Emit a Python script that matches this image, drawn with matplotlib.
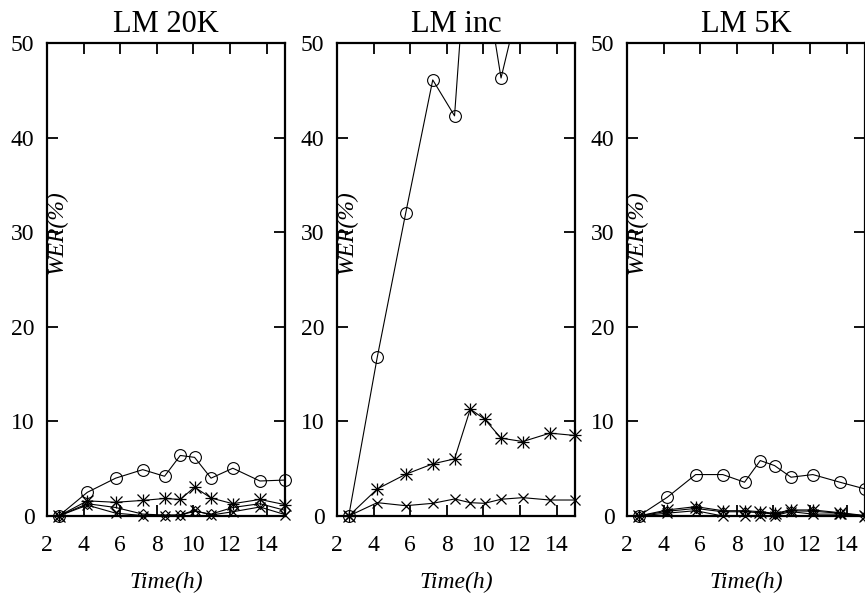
import numpy as np
import matplotlib
matplotlib.use("Agg")
import matplotlib.pyplot as plt

plt.rcParams['font.family'] = ['Liberation Serif', 'DejaVu Serif']

# Elapsed time (hours) at each evaluation point
hours = [2.64, 4.2, 5.75, 7.23, 8.42, 9.28, 10.06, 10.96, 12.15, 13.63, 15.0]

panel_titles = ["LM 20K", "LM inc", "LM 5K"]

# WER (%) per configuration, one list per curve
wer_circle_20k = [0, 2.5, 4.0, 4.9, 4.2, 6.4, 6.2, 4.0, 5.05, 3.7, 3.8]
wer_star_20k = [0, 1.6, 1.45, 1.65, 1.85, 1.75, 3.05, 1.9, 1.3, 1.75, 1.2]
wer_cross_20k = [0, 1.15, 0.3, 0.05, 0.05, 0.1, 0.6, 0.1, 0.45, 0.95, 0.15]
wer_diamond_20k = [0, 1.3, 0.9, 0.2, 0.1, 0.1, 0.5, 0.2, 0.9, 1.3, 0.6]

wer_circle_inc = [0, 16.8, 32.0, 46.1, 42.3, 65.4, 57.2, 46.3, 55.9, 58.0, 57.0]
wer_star_inc = [0, 2.86, 4.41, 5.51, 6.04, 11.3, 10.24, 8.23, 7.87, 8.76, 8.51]
wer_cross_inc = [0, 1.41, 1.09, 1.34, 1.80, 1.41, 1.34, 1.77, 1.94, 1.69, 1.69]

wer_circle_5k = [0, 1.98, 4.38, 4.38, 3.57, 5.86, 5.33, 4.1, 4.38, 3.57, 2.86]
wer_star_5k = [0, 0.64, 0.99, 0.56, 0.56, 0.46, 0.28, 0.64, 0.64, 0.35, 0.05]
wer_cross_5k = [0, 0.3, 0.56, 0.0, 0.05, 0.05, 0.05, 0.46, 0.2, 0.2, 0.0]
wer_diamond_5k = [0, 0.5, 0.8, 0.45, 0.45, 0.35, 0.2, 0.55, 0.5, 0.3, 0.0]

x_ticks = [2, 4, 6, 8, 10, 12, 14]
y_ticks = [0, 10, 20, 30, 40, 50]

panels = [
    [(wer_circle_20k, 'o'), (wer_diamond_20k, 'D'), (wer_star_20k, 'ast'), (wer_cross_20k, 'x')],
    [(wer_circle_inc, 'o'), (wer_star_inc, 'ast'), (wer_cross_inc, 'x')],
    [(wer_circle_5k, 'o'), (wer_diamond_5k, 'D'), (wer_star_5k, 'ast'), (wer_cross_5k, 'x')],
]

W, H = 865, 596
fig = plt.figure(figsize=(W / 100, H / 100), dpi=100)

lefts = [47, 337, 627]
ax_w = 238
top_px, bot_px = 43, 516

YMAX = 50
for left, title, series in zip(lefts, panel_titles, panels):
    ax = fig.add_axes([left / W, 1 - bot_px / H, ax_w / W, (bot_px - top_px) / H])
    ax.set_xlim(2, 15)
    ax.set_ylim(0, YMAX)
    x = np.array(hours)
    for vals, mk in series:
        y = np.array(vals, dtype=float)
        ax.plot(x, y, color='black', lw=0.8, zorder=3)
        # markers stay visible on the frame, but only inside the value range
        visible = np.where(y <= YMAX, y, np.nan)
        if mk == 'ast':
            for m in ['+', 'x']:
                ax.plot(x, visible, ls='none', marker=m, ms=8, mew=0.9,
                        color='black', clip_on=False, zorder=4)
        elif mk == 'x':
            ax.plot(x, visible, ls='none', marker='x', ms=7.5, mew=0.9,
                    color='black', clip_on=False, zorder=4)
        elif mk == 'D':
            ax.plot(x, visible, ls='none', marker='D', ms=5.5, mew=0.8,
                    mfc='none', mec='black', clip_on=False, zorder=4)
        else:
            ax.plot(x, visible, ls='none', marker='o', ms=8.5, mew=0.8,
                    mfc='none', mec='black', clip_on=False, zorder=4)

    ax.set_xticks(x_ticks)
    ax.set_yticks(y_ticks)
    ax.tick_params(direction='in', length=8, width=1.3, top=True, right=True,
                   labelsize=17)
    ax.tick_params(axis='x', pad=14)
    ax.tick_params(axis='y', pad=9)
    for sp in ax.spines.values():
        sp.set_linewidth(1.6)
        sp.set_zorder(5)
    ax.set_title(title, fontsize=22, pad=8)
    ax.set_xlabel("Time(h)", fontsize=17, style='italic', labelpad=11)
    ax.text(0.04, 0.6, "WER(%)", transform=ax.transAxes, rotation=90,
            fontsize=17, style='italic', ha='center', va='center')

fig.savefig("out.png", dpi=100)
